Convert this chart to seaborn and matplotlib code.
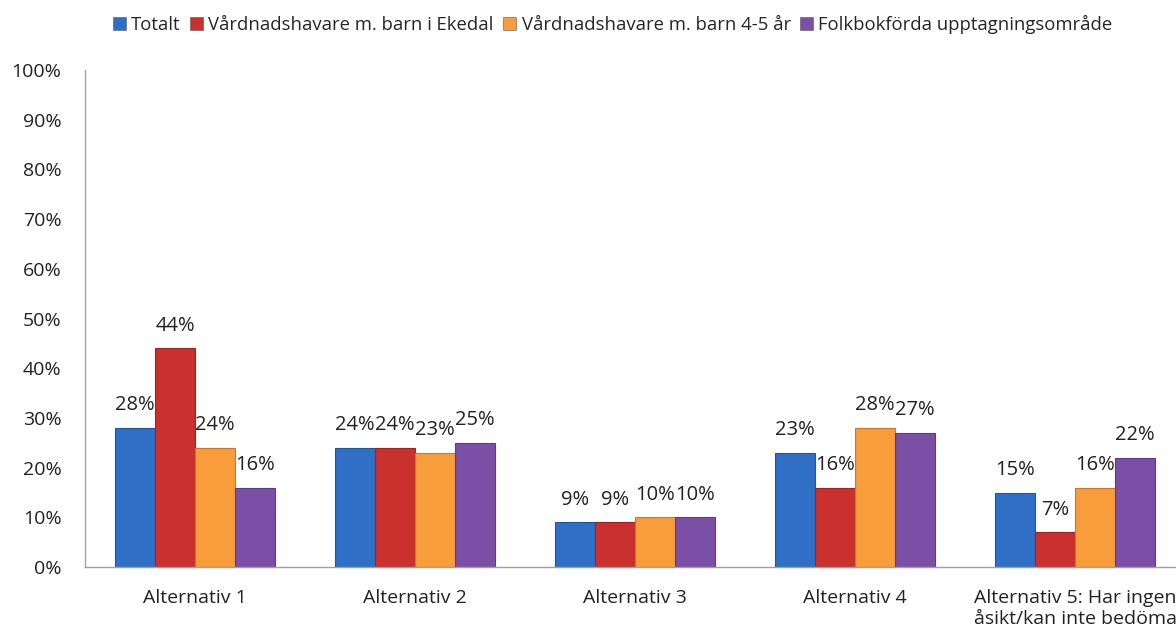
"""
Stapeldiagram: alternativ per svarsgrupp
"""

import pandas as pd
import matplotlib.pyplot as plt
import seaborn as sns
from matplotlib.patches import Patch
from matplotlib.ticker import FixedLocator

categories = ["Alternativ 1", "Alternativ 2", "Alternativ 3", "Alternativ 4",
              "Alternativ 5: Har ingen\nåsikt/kan inte bedöma"]
groups = ["Totalt", "Vårdnadshavare m. barn i Ekedal",
          "Vårdnadshavare m. barn 4-5 år", "Folkbokförda upptagningsområde"]
totalt = [28, 24, 9, 23, 15]
ekedal = [44, 24, 9, 16, 7]
barn_4_5 = [24, 23, 10, 28, 16]
folkbokforda = [16, 25, 10, 27, 22]
colors = ["#2f6fc6", "#c9302e", "#f89c3c", "#7c4fa6"]
edges = ["#24569a", "#9a2523", "#c9782c", "#5e3c80"]
yticks = list(range(0, 101, 10))

sns.set_style("white")
plt.rcParams['font.family'] = ['Open Sans', 'DejaVu Sans']

df = pd.DataFrame({
    "alternativ": categories * 4,
    "grupp": [g for g in groups for _ in categories],
    "andel": totalt + ekedal + barn_4_5 + folkbokforda,
})

fig = plt.figure(figsize=(11.76, 6.35), dpi=100)
ax = fig.add_axes([0.0723, 0.107, 0.9354, 0.7826])

sns.barplot(data=df, x="alternativ", y="andel", hue="grupp", order=categories,
            hue_order=groups, palette=colors, width=0.727, ax=ax,
            legend=False, saturation=1, edgecolor="none")

for cont, ec in zip(ax.containers, edges):
    for bar in cont:
        bar.set_edgecolor(ec)
        bar.set_linewidth(0.8)
    ax.bar_label(cont, labels=[f"{v:.0f}%" for v in cont.datavalues],
                 padding=9, fontsize=14.5, color="#222222")

ax.set_xlim(-0.5, 4.5)
ax.set_ylim(0, 100)
ax.set_yticks(yticks)
ax.set_yticklabels([f"{t}%" for t in yticks], fontsize=14, color="#222222")
ax.set_xlabel("")
ax.set_ylabel("")
ax.tick_params(axis="x", length=0, labelsize=14, labelcolor="#222222", pad=16)
ax.tick_params(axis="y", length=6, color="#a0a0a0", direction="out", pad=11)
ax.xaxis.set_minor_locator(FixedLocator([0.5, 1.5, 2.5, 3.5]))
ax.tick_params(axis="x", which="minor", length=6, color="#a0a0a0")
for lbl in ax.get_xticklabels():
    lbl.set_verticalalignment("top")
    lbl.set_horizontalalignment("center")
    lbl.set_multialignment("left")

sns.despine(ax=ax, top=True, right=True)
for side in ["left", "bottom"]:
    ax.spines[side].set_color("#a0a0a0")
    ax.spines[side].set_linewidth(1)

handles = [Patch(facecolor=c, edgecolor="#555555", linewidth=0.4) for c in colors]
fig.legend(handles, groups, loc="center", bbox_to_anchor=(0.521, 0.962), ncol=4,
           frameon=False, fontsize=13.3, handlelength=0.7, handleheight=0.7,
           handletextpad=0.3, columnspacing=0.5)

fig.savefig("out.png", dpi=100)
